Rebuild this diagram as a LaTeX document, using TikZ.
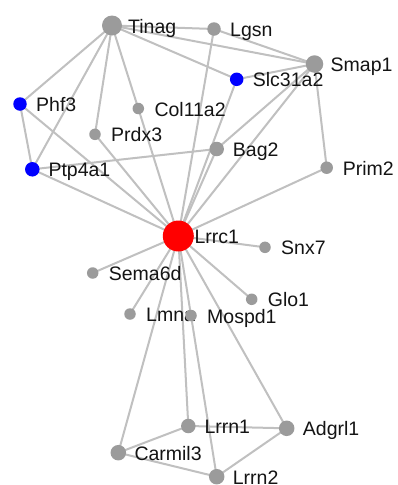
\documentclass[tikz,border=0pt]{standalone}
\usepackage{fontspec}
\setmainfont{Liberation Sans}
\definecolor{edgegray}{HTML}{C0C0C0}
\definecolor{nodegray}{HTML}{9B9B9B}
\definecolor{nodeblue}{HTML}{0000FF}
\definecolor{nodered}{HTML}{FF0000}
\tikzset{
  gene/.style={circle, fill=nodegray, draw=none, inner sep=0pt, minimum size=#1},
  gene/.default=11pt,
  bluegene/.style={gene=#1, fill=nodeblue},
  bluegene/.default=13pt,
  hub/.style={circle, fill=nodered, draw=none, inner sep=0pt, minimum size=31pt},
  link/.style={draw=edgegray, line width=2pt},
  genelabel/.style={anchor=base west, inner sep=0pt, font=\fontsize{19.5}{21}\selectfont, text=black!92}
}
\newcommand{\genelabel}[2]{\path (#1) ++(16,7.5) node[genelabel] {#2};}
\begin{document}
\begin{tikzpicture}[x=1pt,y=-1pt]
\useasboundingbox (0,0) rectangle (398,485);
\fill[white] (0,0) rectangle (398,485);

% positions
\coordinate (cTinag)   at (112,25.5);
\coordinate (cLgsn)    at (214,29);
\coordinate (cSmap1)   at (314.5,64);
\coordinate (cSlc)     at (236.7,79.3);
\coordinate (cPhf3)    at (20,104);
\coordinate (cCol)     at (138.3,108.5);
\coordinate (cPrdx3)   at (95,134.3);
\coordinate (cBag2)    at (216.7,149);
\coordinate (cPrim2)   at (326.7,167.7);
\coordinate (cPtp)     at (32.3,169.3);
\coordinate (cLrrc1)   at (178.3,236);
\coordinate (cSnx7)    at (265,247.3);
\coordinate (cSema)    at (92.7,273);
\coordinate (cGlo1)    at (251.7,299.3);
\coordinate (cLmna)    at (130,314);
\coordinate (cMospd1)  at (191,315.5);
\coordinate (cLrrn1)   at (188.3,426);
\coordinate (cAdgrl1)  at (286.7,428.3);
\coordinate (cCarmil3) at (118.3,452.7);
\coordinate (cLrrn2)   at (216.7,476.7);

% named gene nodes (transparent here; the visible discs are drawn last)
\path
  (cTinag)   node[gene=19pt, opacity=0] (Tinag) {}
  (cLgsn)    node[gene=13pt, opacity=0] (Lgsn) {}
  (cSmap1)   node[gene=17pt, opacity=0] (Smap1) {}
  (cSlc)     node[gene=13pt, opacity=0] (Slc31a2) {}
  (cPhf3)    node[gene=13pt, opacity=0] (Phf3) {}
  (cCol)     node[gene=11pt, opacity=0] (Col11a2) {}
  (cPrdx3)   node[gene=11pt, opacity=0] (Prdx3) {}
  (cBag2)    node[gene=14pt, opacity=0] (Bag2) {}
  (cPrim2)   node[gene=12pt, opacity=0] (Prim2) {}
  (cPtp)     node[gene=14pt, opacity=0] (Ptp4a1) {}
  (cLrrc1)   node[hub, opacity=0] (Lrrc1) {}
  (cSnx7)    node[gene=11pt, opacity=0] (Snx7) {}
  (cSema)    node[gene=11pt, opacity=0] (Sema6d) {}
  (cGlo1)    node[gene=11pt, opacity=0] (Glo1) {}
  (cLmna)    node[gene=11pt, opacity=0] (Lmna) {}
  (cMospd1)  node[gene=11pt, opacity=0] (Mospd1) {}
  (cLrrn1)   node[gene=14pt, opacity=0] (Lrrn1) {}
  (cAdgrl1)  node[gene=15pt, opacity=0] (Adgrl1) {}
  (cCarmil3) node[gene=15pt, opacity=0] (Carmil3) {}
  (cLrrn2)   node[gene=15pt, opacity=0] (Lrrn2) {};

% connectors
\foreach \a/\b in {
  Tinag/Lgsn, Tinag/Smap1, Tinag/Slc31a2, Tinag/Phf3, Tinag/Ptp4a1,
  Tinag/Prdx3, Tinag/Col11a2, Lgsn/Smap1, Slc31a2/Smap1,
  Phf3/Ptp4a1, Phf3/Lrrc1, Ptp4a1/Lrrc1, Ptp4a1/Bag2,
  Prdx3/Lrrc1, Col11a2/Lrrc1, Lgsn/Lrrc1, Slc31a2/Lrrc1,
  Bag2/Lrrc1, Smap1/Bag2, Smap1/Lrrc1, Smap1/Prim2, Prim2/Lrrc1,
  Lrrc1/Snx7, Lrrc1/Sema6d, Lrrc1/Glo1, Lrrc1/Lmna, Lrrc1/Mospd1,
  Lrrc1/Carmil3, Lrrc1/Lrrn1, Mospd1/Lrrn2, Lrrc1/Adgrl1,
  Lrrn1/Adgrl1, Lrrn1/Carmil3, Carmil3/Lrrn2, Lrrn2/Adgrl1}
  \draw[link] (\a.center) -- (\b.center);

% labels
\genelabel{cTinag}{Tinag}
\genelabel{cLgsn}{Lgsn}
\genelabel{cSmap1}{Smap1}
\genelabel{cSlc}{Slc31a2}
\genelabel{cPhf3}{Phf3}
\genelabel{cCol}{Col11a2}
\genelabel{cPrdx3}{Prdx3}
\genelabel{cBag2}{Bag2}
\genelabel{cPrim2}{Prim2}
\genelabel{cPtp}{Ptp4a1}
\genelabel{cLrrc1}{Lrrc1}
\genelabel{cSnx7}{Snx7}
\genelabel{cSema}{Sema6d}
\genelabel{cGlo1}{Glo1}
\genelabel{cLmna}{Lmna}
\genelabel{cMospd1}{Mospd1}
\genelabel{cLrrn1}{Lrrn1}
\genelabel{cAdgrl1}{Adgrl1}
\genelabel{cCarmil3}{Carmil3}
\genelabel{cLrrn2}{Lrrn2}

% node discs on top
\path
  (cTinag)   node[gene=20pt] {}
  (cLgsn)    node[gene=13.5pt] {}
  (cSmap1)   node[gene=17.5pt] {}
  (cSlc)     node[bluegene=13.5pt] {}
  (cPhf3)    node[bluegene=13.5pt] {}
  (cCol)     node[gene=11.5pt] {}
  (cPrdx3)   node[gene=11.5pt] {}
  (cBag2)    node[gene=14.5pt] {}
  (cPrim2)   node[gene=12.5pt] {}
  (cPtp)     node[bluegene=14.5pt] {}
  (cLrrc1)   node[hub] {}
  (cSnx7)    node[gene=11.5pt] {}
  (cSema)    node[gene=11.5pt] {}
  (cGlo1)    node[gene=11.5pt] {}
  (cLmna)    node[gene=11.5pt] {}
  (cMospd1)  node[gene=11.5pt] {}
  (cLrrn1)   node[gene=14.5pt] {}
  (cAdgrl1)  node[gene=15.5pt] {}
  (cCarmil3) node[gene=15.5pt] {}
  (cLrrn2)   node[gene=15.5pt] {};
\end{tikzpicture}
\end{document}
